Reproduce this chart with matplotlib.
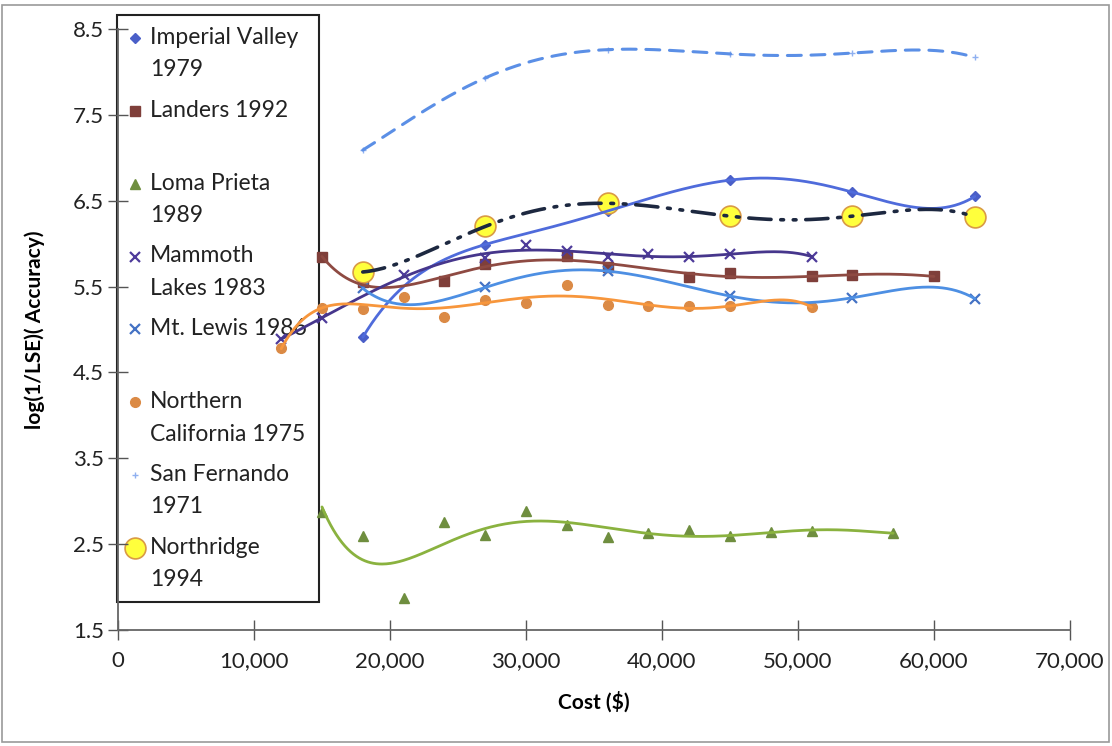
import matplotlib

matplotlib.use("Agg")
import matplotlib.pyplot as plt
import numpy as np
from matplotlib.patches import Rectangle
from matplotlib.ticker import StrMethodFormatter

plt.rcParams["font.family"] = ["Lato", "DejaVu Sans"]
plt.rcParams["lines.scale_dashes"] = False

# earthquake series: cost ($) vs log(1/LSE)
imperial_x = [18000, 27000, 36000, 45000, 54000, 63000]
imperial_y = [4.91, 5.99, 6.38, 6.74, 6.60, 6.55]

landers_x = [15000, 18000, 24000, 27000, 33000, 36000, 42000, 45000, 51000, 54000, 60000]
landers_y = [5.84, 5.55, 5.56, 5.76, 5.86, 5.73, 5.61, 5.66, 5.62, 5.63, 5.62]

loma_x = [15000, 18000, 21000, 24000, 27000, 30000, 33000, 36000, 39000,
          42000, 45000, 48000, 51000, 57000]
loma_y = [2.87, 2.60, 1.87, 2.76, 2.61, 2.89, 2.72, 2.58, 2.63,
          2.66, 2.59, 2.64, 2.65, 2.63]

mammoth_x = [12000, 15000, 21000, 27000, 30000, 33000, 36000, 39000, 42000, 45000, 51000]
mammoth_y = [4.89, 5.13, 5.63, 5.83, 5.98, 5.92, 5.84, 5.88, 5.84, 5.88, 5.85]

lewis_x = [18000, 27000, 36000, 45000, 54000, 63000]
lewis_y = [5.48, 5.49, 5.68, 5.39, 5.37, 5.36]

norcal_x = [12000, 15000, 18000, 21000, 24000, 27000, 30000, 33000, 36000,
            39000, 42000, 45000, 51000]
norcal_y = [4.78, 5.25, 5.24, 5.38, 5.14, 5.34, 5.31, 5.52, 5.28,
            5.27, 5.27, 5.27, 5.26]

sanfer_x = [18000, 27000, 36000, 45000, 54000, 63000]
sanfer_y = [7.09, 7.93, 8.26, 8.21, 8.22, 8.17]

northridge_x = [18000, 27000, 36000, 45000, 54000, 63000]
northridge_y = [5.67, 6.20, 6.47, 6.32, 6.32, 6.31]

labels = [
    "Imperial Valley\n1979",
    "Landers 1992\n ",
    "Loma Prieta\n1989",
    "Mammoth\nLakes 1983",
    "Mt. Lewis 1986\n ",
    "Northern\nCalifornia 1975",
    "San Fernando\n1971",
    "Northridge\n1994",
]

# (x, y, marker style, trendline style)
series = [
    (imperial_x, imperial_y,
     dict(marker="D", ms=5, color="#4A5FC8", mec="#4A5FC8"),
     dict(color="#4F6BDB", lw=2.0, ls="-")),
    (landers_x, landers_y,
     dict(marker="s", ms=6.5, color="#7F3F3A", mec="#7F3F3A"),
     dict(color="#8E4A42", lw=2.0, ls="-")),
    (loma_x, loma_y,
     dict(marker="^", ms=7, color="#6F8E3F", mec="#6F8E3F"),
     dict(color="#8AB23F", lw=2.0, ls="-")),
    (mammoth_x, mammoth_y,
     dict(marker="x", ms=7, mew=1.6, color="#4E3B9A"),
     dict(color="#46368C", lw=2.0, ls="-")),
    (lewis_x, lewis_y,
     dict(marker="x", ms=7, mew=1.6, color="#4472C4"),
     dict(color="#4D8FE3", lw=2.0, ls="-")),
    (norcal_x, norcal_y,
     dict(marker="o", ms=7, color="#DB8A45", mec="#DB8A45"),
     dict(color="#F7963C", lw=2.0, ls="-")),
    (sanfer_x, sanfer_y,
     dict(marker="+", ms=5, mew=1.0, color="#8FB0F0"),
     dict(color="#5B8FE6", lw=2.2, ls=(0, (10, 7)))),
    (northridge_x, northridge_y,
     dict(marker="o", ms=15, mfc="#FFFF3C", mec="#D99A45", mew=1.2),
     dict(color="#1D2840", lw=2.6, ls=(0, (16, 7, 2, 7, 2, 7)))),
]

fig = plt.figure(figsize=(11.12, 7.46), dpi=100)
ax = fig.add_axes([0.1061, 0.1555, 0.8561, 0.8056])

handles = []
for (xs, ys, mstyle, lstyle), label in zip(series, labels):
    xs = np.asarray(xs, dtype=float)
    ys = np.asarray(ys, dtype=float)
    (h,) = ax.plot(xs, ys, ls="none", label=label, zorder=3, **mstyle)
    handles.append(h)
    # polynomial trendline (order 6, or lower for short series)
    deg = min(6, len(xs) - 1)
    coef = np.polyfit(xs / 1e4, ys, deg)
    grid = np.linspace(xs.min(), xs.max(), 400)
    ax.plot(grid, np.polyval(coef, grid / 1e4), zorder=4,
            solid_capstyle="round", dash_capstyle="round", **lstyle)

ax.set_xlim(0, 70000)
ax.set_ylim(1.5, 8.5)
ax.set_xticks(np.arange(0, 70001, 10000))
ax.set_yticks(np.arange(1.5, 8.51, 1.0))
ax.xaxis.set_major_formatter(StrMethodFormatter("{x:,.0f}"))
ax.yaxis.set_major_formatter(StrMethodFormatter("{x:.1f}"))
ax.tick_params(axis="both", direction="inout", length=14, width=1.0,
               color="#555555", labelsize=16, labelcolor="#222222")
ax.tick_params(axis="x", pad=8)
ax.tick_params(axis="y", pad=3)
ax.spines[["top", "right"]].set_visible(False)
for side in ("left", "bottom"):
    ax.spines[side].set_color("#666666")
    ax.spines[side].set_linewidth(1.3)

ax.set_xlabel("Cost ($)", fontsize=15, fontweight="bold", labelpad=15)
ax.set_ylabel("log(1/LSE)( Accuracy)", fontsize=15, fontweight="bold", labelpad=20)

leg = ax.legend(handles=handles, loc="upper left", bbox_to_anchor=(-0.001, 1.023),
                borderaxespad=0, fancybox=False, framealpha=1, edgecolor="#222222",
                fontsize=16.5, handlelength=0.6, handletextpad=0.35, labelspacing=0.86,
                borderpad=0.5)
leg.get_frame().set_linewidth(1.5)
leg.set_zorder(1)
for text in leg.get_texts():
    text.set_color("#222222")
    text.set_linespacing(1.66)
# put the legend markers on the first text line
for h in leg.legend_handles:
    h.set_ydata(np.asarray(h.get_ydata(), dtype=float) + 11.5)

fig.patches.append(Rectangle((0.002, 0.005), 0.995, 0.988, transform=fig.transFigure,
                             fill=False, edgecolor="#9A9A9A", linewidth=1.2))

fig.savefig("out.png", dpi=100)
